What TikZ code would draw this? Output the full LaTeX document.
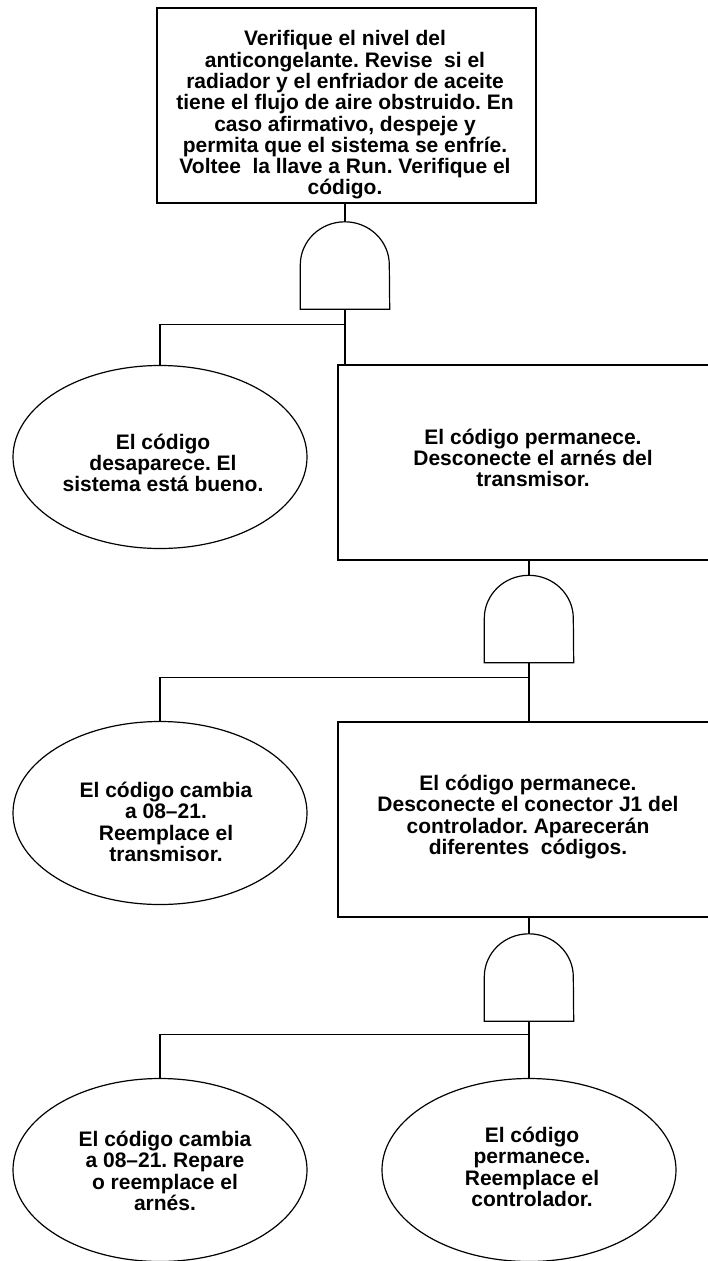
\documentclass[tikz,border=0pt]{standalone}
\usepackage{fontspec}
\setmainfont{Liberation Sans}
\frenchspacing
\usetikzlibrary{shapes.geometric,calc}
\tikzset{
  ln/.style={line width=1.2pt, black},
  boxshape/.style={draw, line width=1.3pt, rectangle, inner sep=0pt},
  ovalshape/.style={draw, line width=1.2pt, ellipse, inner sep=0pt, minimum width=294pt, minimum height=183pt},
  gatebox/.style={rectangle, inner sep=0pt, minimum width=89pt, minimum height=87pt},
  gateline/.style={line width=1.2pt, black},
  txt/.style={align=center, font=\fontsize{21}{21.3}\selectfont\bfseries, inner sep=0pt}
}
\newcommand{\gatedraw}[1]{%
  \draw[gateline] (#1.south west) -- ($(#1.north west)+(0,43)$)
    arc[start angle=180, end angle=360, x radius=44.5, y radius=43]
    -- (#1.south east) -- cycle;}
\begin{document}
\begin{tikzpicture}[x=1pt,y=-1pt]
\clip (0,0) rectangle (708,1261);
% boxes
\node[boxshape, minimum width=379pt, minimum height=195pt] (b0) at (346.5,105.5) {};
\node[boxshape, minimum width=384pt, minimum height=195pt] (b1) at (530,462.5) {};
\node[boxshape, minimum width=384pt, minimum height=195pt] (b2) at (530,819.5) {};
% ellipses
\node[ovalshape] (e1) at (160,457) {};
\node[ovalshape] (e2) at (160,813) {};
\node[ovalshape] (e3) at (160,1170) {};
\node[ovalshape] (e4) at (529,1170) {};
% gates
\node[gatebox] (g1) at (345,265.5) {};
\node[gatebox] (g2) at (529,619) {};
\node[gatebox] (g3) at (529,977.5) {};
\gatedraw{g1}
\gatedraw{g2}
\gatedraw{g3}
% texts
\node[txt] (t0) at (345,115) {Verifique el nivel del\\anticongelante. Revise\ \ si el\\radiador y el enfriador de aceite\\tiene el flujo de aire obstruido. En\\caso afirmativo, despeje y\\permita que el sistema se enfríe.\\Voltee\ \ la llave a Run. Verifique el\\código.};
\node[txt] (t1) at (533,458) {El código permanece.\\Desconecte el arnés del\\transmisor.};
\node[txt] (t2) at (528,817) {El código permanece.\\Desconecte el conector J1 del\\controlador. Aparecerán\\diferentes\ \ códigos.};
\node[txt] (te1) at (163,463) {El código\\desaparece. El\\sistema está bueno.};
\node[txt] (te2) at (166,822) {El código cambia\\a 08–21.\\Reemplace el\\transmisor.};
\node[txt] (te3) at (165,1171) {El código cambia\\a 08–21. Repare\\o reemplace el\\arnés.};
\node[txt] (te4) at (532,1167) {El código\\permanece.\\Reemplace el\\controlador.};
% junctions
\coordinate (j1) at ($(g1.south)+(0,15)$);
\coordinate (j2) at ($(g2.south)+(0,15)$);
\coordinate (j3) at ($(g3.south)+(0,13)$);
% connectors
\draw[ln] (g1.north) -- (g1.north |- b0.south);
\draw[ln] (g1.south) -- (g1.south |- b1.north);
\draw[ln] (j1) -| (e1.north);
\draw[ln] (g2.north) -- (g2.north |- b1.south);
\draw[ln] (g2.south) -- (g2.south |- b2.north);
\draw[ln] (j2) -| (e2.north);
\draw[ln] (g3.north) -- (g3.north |- b2.south);
\draw[ln] (g3.south) -- (e4.north);
\draw[ln] (j3) -| (e3.north);
\end{tikzpicture}
\end{document}
